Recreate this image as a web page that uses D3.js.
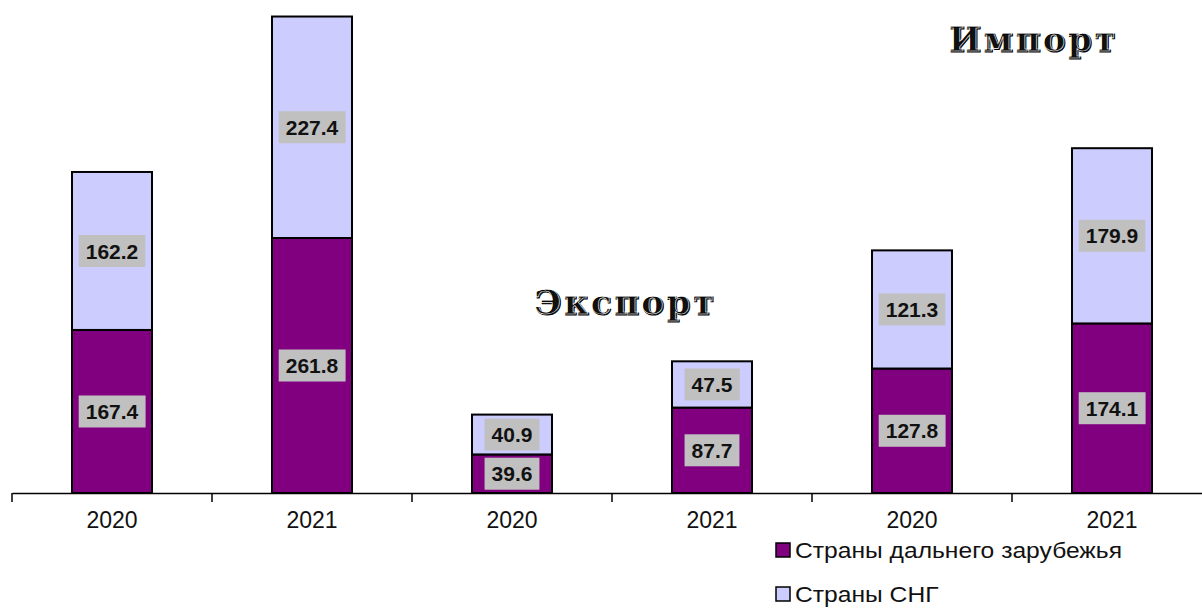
<!DOCTYPE html>
<html>
<head>
<meta charset="utf-8">
<script src="https://cdn.jsdelivr.net/npm/d3@7"></script>
<style>
  body { margin: 0; background: #fff; }
  svg { display: block; }
</style>
</head>
<body>
<div id="chart"></div>
<script>
// data
const categories = ['2020', '2021', '2020 ', '2021 ', '2020  ', '2021  '];
const farAbroad = [167.4, 261.8, 39.6, 87.7, 127.8, 174.1];
const cisCountries = [162.2, 227.4, 40.9, 47.5, 121.3, 179.9];
const seriesNames = ['Страны дальнего зарубежья', 'Страны СНГ'];
const seriesColors = ['#800080', '#CCCCFF'];
const groupTitles = [
  { text: 'Экспорт', at: 3.07, value: 183 },
  { text: 'Импорт', at: 5.11, value: 453 }
];

const width = 1202, height = 608;
const svg = d3.select('#chart').append('svg')
  .attr('width', width)
  .attr('height', height);

const x = d3.scaleBand()
  .domain(categories)
  .range([12, 1212])
  .paddingInner(0.6)
  .paddingOuter(0.3);

const y = d3.scaleLinear()
  .domain([0, 500])
  .range([493, 6]);

const rows = categories.map((c, i) => ({ cat: c, far: farAbroad[i], cis: cisCountries[i] }));
const stacked = d3.stack().keys(['far', 'cis'])(rows);

// bars
const layer = svg.selectAll('g.layer')
  .data(stacked)
  .join('g')
  .attr('class', 'layer')
  .attr('fill', (d, i) => seriesColors[i]);

layer.selectAll('rect')
  .data(d => d)
  .join('rect')
  .attr('x', d => x(d.data.cat))
  .attr('width', x.bandwidth())
  .attr('y', d => y(d[1]))
  .attr('height', d => y(d[0]) - y(d[1]))
  .attr('stroke', '#000')
  .attr('stroke-width', 2);

// value labels with grey boxes
const labels = svg.append('g');
stacked.forEach(s => {
  s.forEach(d => {
    const val = d[1] - d[0];
    const cx = x(d.data.cat) + x.bandwidth() / 2;
    const cy = (y(d[0]) + y(d[1])) / 2;
    const g = labels.append('g').attr('transform', `translate(${cx},${cy})`);
    const t = g.append('text')
      .attr('text-anchor', 'middle')
      .attr('dy', '0.36em')
      .attr('font-family', 'Liberation Sans, Arial, sans-serif')
      .attr('font-weight', 'bold')
      .attr('font-size', 21)
      .attr('fill', '#111')
      .text(val.toFixed(1));
    const bb = t.node().getBBox();
    g.insert('rect', 'text')
      .attr('x', bb.x - 7)
      .attr('y', -16)
      .attr('width', bb.width + 14)
      .attr('height', 32)
      .attr('fill', '#C0C0C0');
  });
});

// x axis
const xAxis = d3.axisBottom(x)
  .tickSize(0)
  .tickPadding(19)
  .tickFormat(d => d.trim());

const axisG = svg.append('g')
  .attr('transform', `translate(0,${y(0)})`)
  .call(xAxis);
axisG.select('.domain').attr('stroke', '#000').attr('stroke-width', 1.5);
axisG.selectAll('text')
  .attr('font-family', 'Liberation Sans, Arial, sans-serif')
  .attr('font-size', 23)
  .attr('fill', '#111');

// category dividers (ticks between bands)
const step = x.step();
axisG.selectAll('line.div')
  .data(d3.range(categories.length))
  .join('line')
  .attr('class', 'div')
  .attr('x1', i => x(categories[i]) - x.paddingOuter() * step)
  .attr('x2', i => x(categories[i]) - x.paddingOuter() * step)
  .attr('y1', 0)
  .attr('y2', 9)
  .attr('stroke', '#000')
  .attr('stroke-width', 1.5);

// engraved group titles
const tg = svg.append('g');
groupTitles.forEach(gt => {
  const px = x.range()[0] + gt.at * step;
  const py = y(gt.value);
  tg.append('text')
    .attr('x', px).attr('y', py)
    .attr('text-anchor', 'middle')
    .attr('font-family', 'DejaVu Serif, serif')
    .attr('font-weight', 'bold')
    .attr('font-size', 34)
    .attr('letter-spacing', 2.5)
    .attr('fill', '#111')
    .attr('stroke', '#000')
    .attr('stroke-width', 1)
    .text(gt.text);
  tg.append('text')
    .attr('x', px - 1).attr('y', py - 1)
    .attr('text-anchor', 'middle')
    .attr('font-family', 'DejaVu Serif, serif')
    .attr('font-weight', 'bold')
    .attr('font-size', 34)
    .attr('letter-spacing', 2.5)
    .attr('fill', 'none')
    .attr('stroke', '#fff')
    .attr('stroke-width', 0.6)
    .text(gt.text);
});

// legend (text is a bit stretched horizontally, as in the original)
const legend = svg.append('g').attr('transform', 'translate(776,543)');
const item = legend.selectAll('g')
  .data(seriesNames)
  .join('g')
  .attr('transform', (d, i) => `translate(0,${i * 44})`);
item.append('rect')
  .attr('width', 14).attr('height', 14)
  .attr('fill', (d, i) => seriesColors[i])
  .attr('stroke', '#000')
  .attr('stroke-width', 1.5);
item.append('text')
  .attr('transform', 'translate(19,7) scale(1.12,1)')
  .attr('dy', '0.36em')
  .attr('font-family', 'Liberation Sans, Arial, sans-serif')
  .attr('font-size', 22)
  .attr('fill', '#111')
  .text(d => d);
</script>
</body>
</html>
